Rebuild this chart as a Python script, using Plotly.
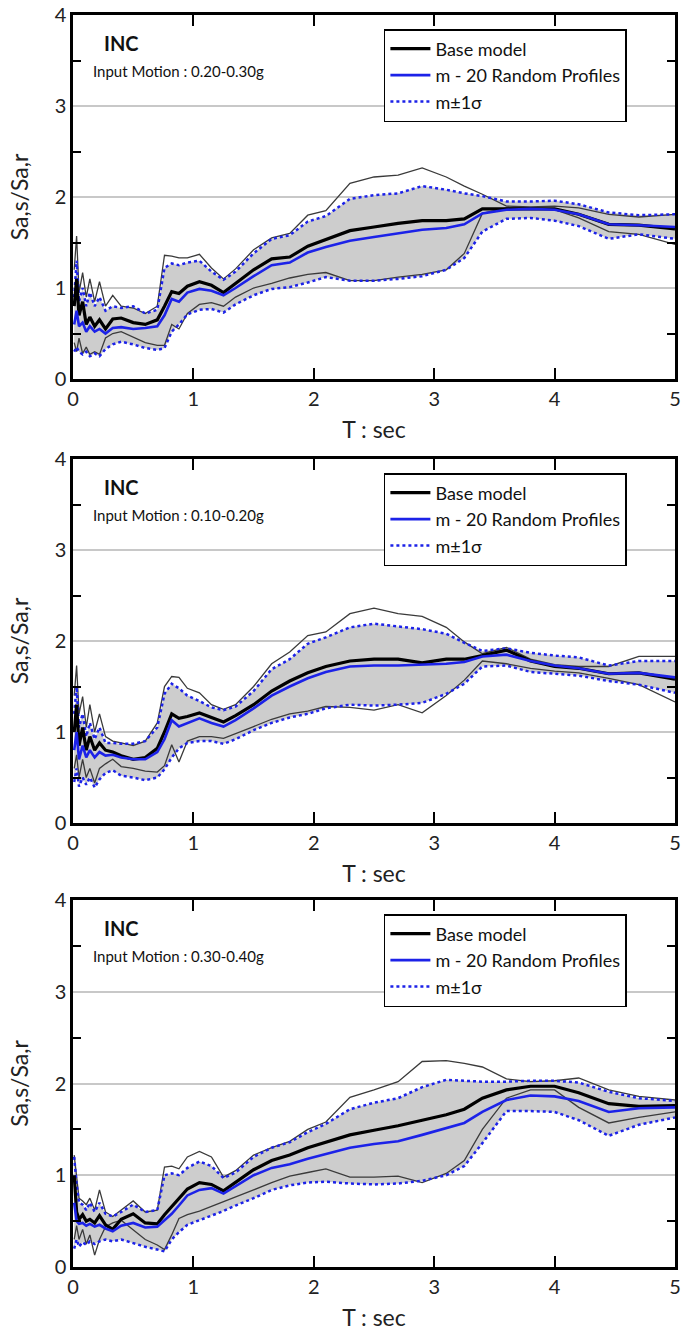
import plotly.graph_objects as go

# ---------------- data ----------------
T = [0.01, 0.03, 0.05, 0.08, 0.11, 0.14, 0.18, 0.22, 0.27, 0.33, 0.4, 0.5, 0.6, 0.7, 0.76,
     0.82, 0.88, 0.95, 1.05, 1.15, 1.25, 1.35, 1.5, 1.65, 1.8, 1.95, 2.1, 2.3, 2.5, 2.7,
     2.9, 3.1, 3.25, 3.4, 3.6, 3.8, 4.0, 4.2, 4.45, 4.7, 5.0]

# Panel 1 : 0.20-0.30g
p1_upper = [1.2, 1.57, 0.95, 1.17, 0.9, 1.1, 0.85, 1.07, 0.8, 0.92, 0.8, 0.78, 0.72, 0.8, 1.36,
            1.35, 1.33, 1.33, 1.37, 1.22, 1.1, 1.21, 1.42, 1.55, 1.6, 1.8, 1.85, 2.15, 2.22, 2.24,
            2.32, 2.22, 2.12, 2.03, 1.9, 1.89, 1.9, 1.88, 1.81, 1.78, 1.81]
p1_plus = [0.9, 1.3, 0.85, 1.0, 0.8, 0.95, 0.8, 0.9, 0.75, 0.8, 0.78, 0.8, 0.72, 0.76, 1.22,
           1.27, 1.25, 1.28, 1.3, 1.18, 1.09, 1.18, 1.38, 1.54, 1.58, 1.73, 1.79, 1.98, 2.02, 2.04,
           2.12, 2.08, 2.04, 2.01, 1.95, 1.95, 1.96, 1.92, 1.83, 1.8, 1.81]
p1_base = [0.8, 1.1, 0.7, 0.85, 0.6, 0.68, 0.58, 0.65, 0.55, 0.66, 0.67, 0.62, 0.6, 0.65, 0.8,
           0.96, 0.94, 1.02, 1.07, 1.03, 0.95, 1.05, 1.2, 1.32, 1.34, 1.46, 1.53, 1.63, 1.67, 1.71,
           1.74, 1.74, 1.76, 1.87, 1.87, 1.87, 1.87, 1.81, 1.7, 1.69, 1.65]
p1_mean = [0.6, 0.75, 0.58, 0.62, 0.52, 0.58, 0.52, 0.55, 0.5, 0.56, 0.57, 0.55, 0.56, 0.58, 0.7,
           0.88, 0.85, 0.95, 0.99, 0.97, 0.92, 1.0, 1.13, 1.25, 1.28, 1.39, 1.45, 1.52, 1.56, 1.6,
           1.64, 1.66, 1.7, 1.82, 1.86, 1.87, 1.86, 1.81, 1.7, 1.69, 1.67]
p1_lower = [0.4, 0.3, 0.45, 0.28, 0.35, 0.27, 0.3, 0.27, 0.45, 0.5, 0.52, 0.46, 0.4, 0.37, 0.37,
            0.6, 0.55, 0.72, 0.82, 0.84, 0.8, 0.9, 1.0, 1.05, 1.11, 1.15, 1.17, 1.08, 1.08, 1.12,
            1.15, 1.2, 1.38, 1.82, 1.88, 1.88, 1.86, 1.77, 1.62, 1.59, 1.48]
p1_minus = [0.3, 0.35, 0.3, 0.27, 0.3, 0.25, 0.28, 0.25, 0.33, 0.38, 0.41, 0.38, 0.34, 0.32, 0.34,
            0.52, 0.6, 0.71, 0.76, 0.77, 0.73, 0.82, 0.92, 0.99, 1.01, 1.06, 1.12, 1.08, 1.08, 1.1,
            1.13, 1.2, 1.33, 1.62, 1.76, 1.77, 1.74, 1.68, 1.54, 1.59, 1.54]

# Panel 2 : 0.10-0.20g
p2_upper = [1.4, 1.73, 1.2, 1.39, 1.05, 1.3, 1.0, 1.2, 0.95, 0.9, 0.88, 0.85, 0.9, 1.1, 1.5,
            1.61, 1.6, 1.48, 1.43, 1.3, 1.25, 1.3, 1.5, 1.75, 1.88, 2.06, 2.1, 2.3, 2.36, 2.3,
            2.27, 2.15, 1.99, 1.86, 1.93, 1.8, 1.74, 1.72, 1.72, 1.83, 1.83]
p2_plus = [1.2, 1.5, 1.05, 1.2, 0.95, 1.1, 0.92, 1.05, 0.88, 0.88, 0.87, 0.87, 0.9, 1.05, 1.42,
           1.53, 1.48, 1.4, 1.34, 1.27, 1.24, 1.28, 1.45, 1.69, 1.8, 1.97, 2.04, 2.15, 2.19, 2.16,
           2.13, 2.08, 1.98, 1.89, 1.92, 1.87, 1.84, 1.82, 1.73, 1.78, 1.78]
p2_base = [1.0, 1.3, 0.85, 1.05, 0.8, 0.95, 0.8, 0.88, 0.8, 0.78, 0.74, 0.7, 0.72, 0.82, 1.0,
           1.2, 1.15, 1.17, 1.21, 1.16, 1.11, 1.18, 1.3, 1.45, 1.56, 1.65, 1.72, 1.78, 1.8, 1.8,
           1.76, 1.8, 1.8, 1.84, 1.9, 1.78, 1.72, 1.7, 1.64, 1.65, 1.58]
p2_mean = [0.8, 1.0, 0.7, 0.85, 0.72, 0.8, 0.72, 0.78, 0.74, 0.75, 0.72, 0.7, 0.7, 0.78, 0.92,
           1.13, 1.06, 1.1, 1.15, 1.1, 1.06, 1.13, 1.26, 1.4, 1.5, 1.59, 1.66, 1.72, 1.73, 1.73,
           1.74, 1.75, 1.77, 1.83, 1.85, 1.78, 1.73, 1.7, 1.64, 1.65, 1.6]
p2_lower = [0.6, 0.75, 0.5, 0.7, 0.5, 0.6, 0.44, 0.6, 0.65, 0.7, 0.62, 0.6, 0.57, 0.56, 0.63,
            0.86, 0.67, 0.9, 0.95, 0.95, 0.93, 0.98, 1.06, 1.14, 1.2, 1.23, 1.28, 1.27, 1.24, 1.3,
            1.21, 1.4, 1.57, 1.78, 1.75, 1.7, 1.67, 1.65, 1.59, 1.52, 1.33]
p2_minus = [0.45, 0.6, 0.4, 0.5, 0.42, 0.5, 0.39, 0.48, 0.55, 0.58, 0.52, 0.5, 0.47, 0.5, 0.59,
            0.72, 0.82, 0.88, 0.9, 0.9, 0.87, 0.92, 1.02, 1.1, 1.16, 1.2, 1.26, 1.3, 1.29, 1.3,
            1.32, 1.42, 1.53, 1.72, 1.73, 1.66, 1.64, 1.62, 1.56, 1.52, 1.43]

# Panel 3 : 0.30-0.40g
p3_upper = [1.22, 0.95, 0.75, 0.72, 0.68, 0.75, 0.62, 0.84, 0.6, 0.55, 0.62, 0.72, 0.6, 0.62, 1.09,
            1.1, 1.07, 1.2, 1.26, 1.2, 0.98, 1.05, 1.22, 1.3, 1.37, 1.5, 1.58, 1.85, 1.93, 2.02,
            2.24, 2.25, 2.22, 2.18, 2.05, 2.02, 2.03, 2.06, 1.93, 1.86, 1.82]
p3_plus = [1.2, 0.9, 0.7, 0.68, 0.62, 0.7, 0.6, 0.7, 0.58, 0.55, 0.6, 0.68, 0.6, 0.62, 1.0,
           1.02, 1.0, 1.08, 1.15, 1.1, 0.97, 1.03, 1.2, 1.3, 1.36, 1.47, 1.56, 1.72, 1.79, 1.84,
           1.96, 2.04, 2.03, 2.02, 2.02, 2.03, 2.03, 2.01, 1.91, 1.84, 1.81]
p3_base = [1.0, 0.6, 0.52, 0.57, 0.5, 0.52, 0.48, 0.56, 0.46, 0.41, 0.52, 0.58, 0.48, 0.47, 0.57,
           0.66, 0.75, 0.85, 0.92, 0.9, 0.83, 0.92, 1.06, 1.16, 1.22, 1.3, 1.36, 1.44, 1.49, 1.54,
           1.6, 1.66, 1.72, 1.84, 1.93, 1.97, 1.97, 1.9, 1.78, 1.75, 1.76]
p3_mean = [0.7, 0.5, 0.47, 0.48, 0.45, 0.47, 0.44, 0.46, 0.42, 0.39, 0.45, 0.48, 0.43, 0.44, 0.51,
           0.58, 0.67, 0.78, 0.84, 0.86, 0.8, 0.88, 1.0, 1.08, 1.12, 1.18, 1.23, 1.3, 1.34, 1.37,
           1.44, 1.51, 1.57, 1.69, 1.82, 1.87, 1.86, 1.81, 1.69, 1.73, 1.74]
p3_lower = [0.3, 0.45, 0.3, 0.41, 0.25, 0.35, 0.13, 0.3, 0.44, 0.48, 0.51, 0.4, 0.3, 0.24, 0.19,
            0.35, 0.53, 0.57, 0.61, 0.66, 0.71, 0.76, 0.84, 0.92, 0.99, 1.03, 1.07, 0.98, 0.98, 0.99,
            0.92, 1.02, 1.16, 1.5, 1.84, 1.93, 1.93, 1.74, 1.57, 1.63, 1.69]
p3_minus = [0.2, 0.3, 0.22, 0.27, 0.24, 0.28, 0.25, 0.28, 0.3, 0.28, 0.3, 0.26, 0.22, 0.19, 0.17,
            0.3, 0.38, 0.46, 0.51, 0.56, 0.61, 0.67, 0.75, 0.84, 0.89, 0.92, 0.93, 0.91, 0.9, 0.91,
            0.94, 1.0, 1.1, 1.35, 1.7, 1.7, 1.69, 1.6, 1.43, 1.55, 1.63]

motions = ["Input Motion : 0.20-0.30g", "Input Motion : 0.10-0.20g", "Input Motion : 0.30-0.40g"]
y_ticks = [0, 1, 2, 3, 4]
x_ticks = [0, 1, 2, 3, 4, 5]
names = ["Base model", "m - 20 Random Profiles", "m±1σ"]

panels = [
    (p1_upper, p1_plus, p1_base, p1_mean, p1_lower, p1_minus),
    (p2_upper, p2_plus, p2_base, p2_mean, p2_lower, p2_minus),
    (p3_upper, p3_plus, p3_base, p3_mean, p3_lower, p3_minus),
]

# ---------------- styling / layout ----------------
W, H = 683, 1332
ML, MR, MT, MB = 73, 2, 15, 65
PH = H - MT - MB
panel_px = [(15, 379), (459, 823), (900, 1267)]

FONT = "Lato"
BLUE = "#1c22e8"
GRAY_FILL = "rgb(205,205,205)"
THIN = "#3a3a3a"
TXT = "#222"

fig = go.Figure()
legend_keys = ["legend", "legend2", "legend3"]
layout_axes = {}

for i, (up, pl, base, mean, lo, mi) in enumerate(panels):
    n = i + 1
    xa = "x" if n == 1 else f"x{n}"
    ya = "y" if n == 1 else f"y{n}"
    lg = legend_keys[i]
    common = dict(xaxis=xa, yaxis=ya, legend=lg, mode="lines", hoverinfo="skip")

    fig.add_trace(go.Scatter(x=T, y=mi, line=dict(width=0, color=GRAY_FILL), showlegend=False, **common))
    fig.add_trace(go.Scatter(x=T, y=pl, line=dict(width=0, color=GRAY_FILL), fill="tonexty",
                             fillcolor=GRAY_FILL, showlegend=False, **common))
    fig.add_trace(go.Scatter(x=T, y=up, line=dict(width=1.3, color=THIN), showlegend=False, **common))
    fig.add_trace(go.Scatter(x=T, y=lo, line=dict(width=1.3, color=THIN), showlegend=False, **common))
    fig.add_trace(go.Scatter(x=T, y=mi, line=dict(width=2.5, color=BLUE, dash="dot"),
                             showlegend=False, legendgroup=f"s{n}", **common))
    fig.add_trace(go.Scatter(x=T, y=pl, name=names[2], line=dict(width=2.5, color=BLUE, dash="dot"),
                             showlegend=True, legendgroup=f"s{n}", legendrank=3, **common))
    fig.add_trace(go.Scatter(x=T, y=base, name=names[0], line=dict(width=3.2, color="black"),
                             showlegend=True, legendgroup=f"b{n}", legendrank=1, **common))
    fig.add_trace(go.Scatter(x=T, y=mean, name=names[1], line=dict(width=2.6, color=BLUE),
                             showlegend=True, legendgroup=f"m{n}", legendrank=2, **common))

    top, bot = panel_px[i]
    d0 = (H - MB - bot) / PH
    d1 = (H - MB - top) / PH
    xkey = "xaxis" if n == 1 else f"xaxis{n}"
    ykey = "yaxis" if n == 1 else f"yaxis{n}"
    layout_axes[xkey] = dict(
        domain=[0, 1], anchor=ya, range=[0, 5], tickvals=x_ticks,
        ticks="inside", ticklen=11, tickwidth=2, tickcolor="black",
        showline=True, linewidth=2.5, linecolor="black", mirror="allticks",
        showgrid=False, zeroline=False, ticklabeloverflow="allow",
        tickfont=dict(family=FONT, size=20, color=TXT),
        title=dict(text="T : sec", font=dict(family=FONT, size=23, color=TXT), standoff=14),
    )
    layout_axes[ykey] = dict(
        domain=[d0, d1], anchor=xa, range=[0, 4], tickvals=y_ticks,
        ticks="", showline=True, linewidth=2.5, linecolor="black", mirror="allticks",
        showgrid=True, gridcolor="#c8c8c8", gridwidth=1.5, zeroline=False,
        minor=dict(tickvals=[0.5, 1.5, 2.5, 3.5], ticks="inside", ticklen=8, tickwidth=2,
                   tickcolor="black", showgrid=False),
        tickfont=dict(family=FONT, size=20, color=TXT),
        title=dict(text="Sa,s/Sa,r", font=dict(family=FONT, size=23, color=TXT), standoff=20),
    )

    leg_top = top + 14
    layout_axes[lg] = dict(
        x=(387 - ML) / (W - ML - MR), y=(H - MB - leg_top) / PH,
        xanchor="left", yanchor="top",
        bgcolor="white", bordercolor="black", borderwidth=1.5,
        font=dict(family=FONT, size=18, color="#111"),
        traceorder="grouped", tracegroupgap=0, itemwidth=40,
    )

    fig.add_annotation(text="<b>INC</b>", xref=f"{xa} domain", yref=f"{ya} domain",
                       x=29 / 608, y=1 - 28 / 364, xanchor="left", yanchor="middle",
                       showarrow=False, font=dict(family=FONT, size=20, color="#111"))
    fig.add_annotation(text=motions[i], xref=f"{xa} domain", yref=f"{ya} domain",
                       x=18 / 608, y=1 - 56 / 364, xanchor="left", yanchor="middle",
                       showarrow=False, font=dict(family=FONT, size=15, color="#111"))

fig.update_layout(
    width=W, height=H,
    margin=dict(l=ML, r=MR, t=MT, b=MB),
    paper_bgcolor="white", plot_bgcolor="white",
    font=dict(family=FONT),
    **layout_axes,
)

fig.write_html("out.html")
